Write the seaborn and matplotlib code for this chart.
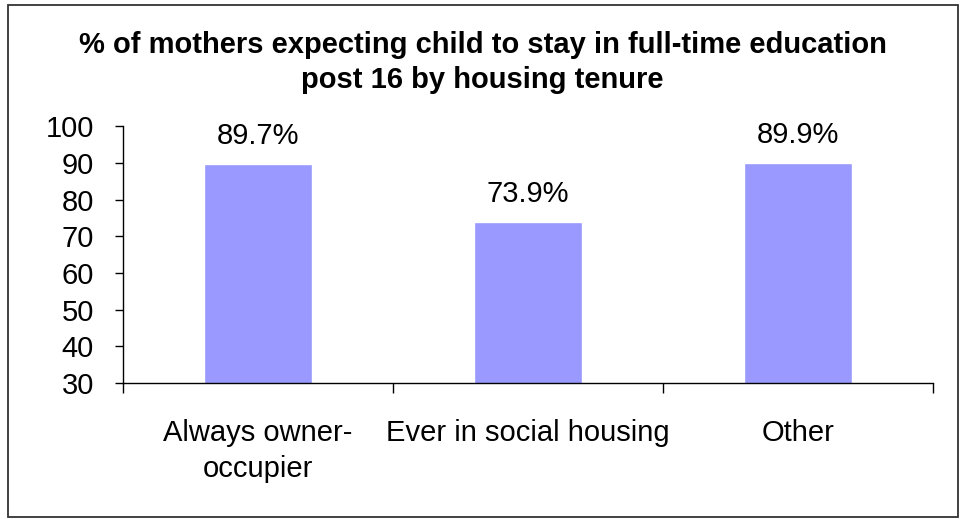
import matplotlib
matplotlib.use('Agg')
import matplotlib.pyplot as plt
import seaborn as sns
import pandas as pd
from matplotlib.patches import Rectangle

categories = ["Always owner-\noccupier", "Ever in social housing", "Other"]
values = [89.7, 73.9, 89.9]
value_labels = ["89.7%", "73.9%", "89.9%"]
y_ticks = [30, 40, 50, 60, 70, 80, 90, 100]

sns.set_style("white")
plt.rcParams['font.family'] = ['Liberation Sans', 'DejaVu Sans']
plt.rcParams['text.color'] = 'black'
plt.rcParams['xtick.color'] = 'black'
plt.rcParams['ytick.color'] = 'black'

df = pd.DataFrame({"tenure": categories, "pct": values})

fig = plt.figure(figsize=(9.65, 5.19), dpi=100)
ax = fig.add_axes([0.1275, 0.262, 0.8393, 0.495])

sns.barplot(data=df, x="tenure", y="pct", color="#9999FF", width=0.4,
            saturation=1, ax=ax)

ax.set_ylim(30, 100)
ax.set_xlim(-0.5, 2.5)
ax.set_yticks(y_ticks)
ax.set_yticklabels([str(t) for t in y_ticks], fontsize=21)
ax.set_xlabel("")
ax.set_ylabel("")

# category tick marks sit between the bars
ax.set_xticks([-0.5, 0.5, 1.5, 2.5], minor=False)
ax.set_xticklabels([])
ax.set_xticks([0, 1, 2], minor=True)
ax.set_xticklabels(categories, minor=True, fontsize=21, linespacing=1.35)
ax.tick_params(axis='x', which='minor', bottom=True, length=0, pad=26)
ax.tick_params(axis='x', which='major', bottom=True, length=7, width=1,
               color='black', direction='out')
ax.tick_params(axis='y', left=True, length=6, width=1, color='black',
               direction='out', pad=15)

for side in ["top", "right"]:
    ax.spines[side].set_visible(False)
for side in ["left", "bottom"]:
    ax.spines[side].set_color("black")
    ax.spines[side].set_linewidth(1)

for i, (v, lab) in enumerate(zip(values, value_labels)):
    ax.annotate(lab, (i, v), xytext=(0, 10), textcoords="offset points",
                ha="center", va="bottom", fontsize=21)

fig.text(0.5, 0.88, "% of mothers expecting child to stay in full-time education\npost 16 by housing tenure",
         ha="center", va="center", fontsize=21, fontweight="bold", linespacing=1.3)

fig.patches.append(Rectangle((8 / 965, 2 / 519), 950 / 965, 512 / 519,
                             transform=fig.transFigure, fill=False,
                             edgecolor="#333333", linewidth=1.3))

fig.savefig("out.png", dpi=100)
